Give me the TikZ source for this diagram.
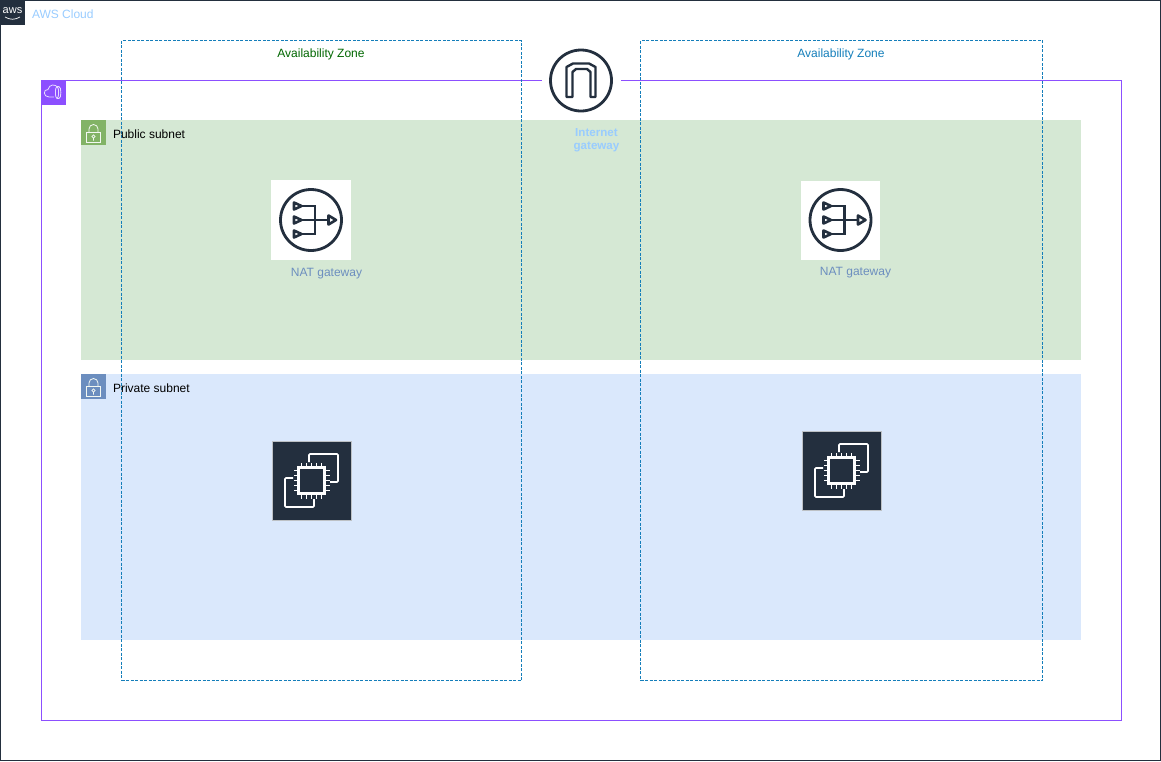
\documentclass[tikz,border=0pt]{standalone}
\usepackage{fontspec}
\setmainfont{Liberation Sans}
\usepackage{xcolor}
\definecolor{cloudcol}{RGB}{35,47,62}
\definecolor{vpccol}{RGB}{140,79,255}
\definecolor{azcol}{RGB}{20,126,186}
\definecolor{azgreen}{RGB}{0,102,0}
\definecolor{pubfill}{RGB}{213,232,212}
\definecolor{pubtag}{RGB}{130,179,102}
\definecolor{privfill}{RGB}{218,232,252}
\definecolor{privtag}{RGB}{108,142,191}
\definecolor{paleblue}{RGB}{153,204,255}

\begin{document}
\begin{tikzpicture}[x=1pt,y=-1pt]
	\tikzset{
		box/.style={shape=rectangle, inner sep=0pt, outer sep=0pt},
		cloud_box/.style={box, draw=cloudcol, line width=1pt, minimum width=1160pt, minimum height=760pt},
		vpc_box/.style={box, draw=vpccol, line width=1pt, minimum width=1080pt, minimum height=640pt},
		az_box/.style={box, draw=azcol, line width=1pt, dash pattern=on 3pt off 1.5pt, minimum height=640pt},
		subnet_box/.style={box, minimum width=1000pt},
		tag/.style={box, minimum size=25pt},
		tile/.style={box, minimum size=80pt},
		ec2_tile/.style={box, minimum size=78.5pt, fill=cloudcol, draw=white!70!cloudcol, line width=0.5pt},
		txt/.style={inner sep=0pt, outer sep=0pt, font=\fontsize{12}{13}\selectfont},
		nat_label/.style={txt, text=privtag},
		pics/lock/.style={code={
			\draw[white!70!pubfill, line width=0.8pt] (-7,0) rectangle (7,10);
			\draw[white!70!pubfill, line width=0.8pt] (-4.5,0) -- (-4.5,-3.5) arc[start angle=180, end angle=360, radius=4.5] -- (4.5,0);
			\draw[white!70!pubfill, line width=0.7pt] (0,4) circle (1.6) (0,5.6) -- (0,8);
		}},
		pics/natgw/.style={code={
			\draw[cloudcol, line width=2.8pt] (0,0) circle (30.5);
			\draw[cloudcol, line width=2.6pt, line join=round] (-17,-17.5) -- (-9.5,-14) -- (-17,-10.5) -- cycle;
			\draw[cloudcol, line width=2.6pt, line join=round] (-17,-3.5) -- (-9.5,0) -- (-17,3.5) -- cycle;
			\draw[cloudcol, line width=2.6pt, line join=round] (-17,10.5) -- (-9.5,14) -- (-17,17.5) -- cycle;
			\draw[cloudcol, line width=2.6pt, line join=round] (17.5,-4.5) -- (25,0) -- (17.5,4.5) -- cycle;
			\draw[cloudcol, line width=2.6pt] (-9,-14) -- (4,-14) -- (4,14) -- (-9,14);
			\draw[cloudcol, line width=2.6pt] (-9,0) -- (17,0);
		}},
		pics/ec2chip/.style={code={
			\draw[white, line width=1.6pt, rounded corners=1pt] (-2.5,-18.5) -- (-2.5,-26.5) -- (26.5,-26.5) -- (26.5,1.5) -- (18.5,1.5);
			\draw[white, line width=1.6pt, rounded corners=1pt] (-18.5,-2.5) -- (-26.5,-2.5) -- (-26.5,26.5) -- (2.5,26.5) -- (2.5,18.5);
			\draw[white, line width=2.2pt] (-13,-13) rectangle (13,13);
			\foreach \p in {-10,-5,0,5,10} {
				\draw[white, line width=1.6pt] (\p,-13) -- (\p,-18) (\p,13) -- (\p,18);
				\draw[white, line width=1.6pt] (-13,\p) -- (-18,\p) (13,\p) -- (18,\p);
			}
		}}
	}

	\useasboundingbox (0,0) rectangle (1161,761);

	% outer frames
	\node[cloud_box] (cloud) at (580.5,380.5) {};
	\node[vpc_box] (vpc) at (581.5,400.5) {};

	% subnets
	\node[subnet_box, fill=pubfill, minimum height=240pt] (public) at (581,240) {};
	\node[subnet_box, fill=privfill, minimum height=266pt] (private) at (581,507) {};

	% zones
	\node[az_box, minimum width=400pt] (azleft) at (321.5,360.5) {};
	\node[az_box, minimum width=402pt] (azright) at (841.5,360.5) {};

	% corner tags
	\node[tag, fill=cloudcol] (cloudtag) at (12.5,12.5) {};
	\node[text=white, inner sep=0pt, font=\fontsize{11}{11}\selectfont] (awstxt) at (12.5,10.5) {aws};
	\draw[white, line width=0.7pt] (5,17) .. controls (10,20) and (15,20) .. (20,17);
	\node[tag, fill=vpccol] (vpctag) at (53.5,92.5) {};
	\draw[white!80!vpccol, line width=0.8pt] (54,97) -- (49,97) .. controls (43,97) and (43,89) .. (48,89.5) .. controls (49,84) and (56,83.5) .. (58,88);
	\draw[white!80!vpccol, line width=0.8pt] (57,92.5) ellipse (1.6 and 6) (57,86.5) -- (59,86.5) (57,98.5) -- (59,98.5);
	\draw[white!80!vpccol, line width=0.8pt] (59,86.5) .. controls (61.5,86.5) and (61.5,98.5) .. (59,98.5);
	\node[tag, fill=pubtag] (pubtag) at (93.5,132.5) {};
	\pic at (pubtag) {lock};
	\node[tag, fill=privtag] (privtag) at (93.5,386.5) {};
	\pic at (privtag) {lock};

	% internet gateway
	\node[box, fill=white, minimum size=79pt] (igw) at (581,80.5) {};
	\draw[cloudcol, line width=2.8pt] (igw) circle (30.5);
	\draw[cloudcol, line width=2.4pt, line join=round] (566.5,97) -- (566.5,67) -- (573,63.5) -- (589,63.5) -- (595.5,67) -- (595.5,97) -- (590.5,97) -- (590.5,72) -- (587,69) -- (576,69) -- (572.5,72) -- (572.5,97) -- cycle;

	% nat gateways
	\node[tile, fill=white] (natleft) at (311,220) {};
	\pic at (natleft) {natgw};
	\node[tile, fill=white, minimum size=79pt] (natright) at (840.5,220) {};
	\pic at (natright) {natgw};

	% ec2 instances
	\node[ec2_tile] (ec2left) at (311.5,480.5) {};
	\pic at (ec2left) {ec2chip};
	\node[ec2_tile] (ec2right) at (841.5,470.5) {};
	\pic at (ec2right) {ec2chip};

	% labels
	\node[txt, text=paleblue, anchor=west] (cloudlbl) at (32,14) {AWS Cloud};
	\node[txt, anchor=west] (publbl) at (113,134) {Public subnet};
	\node[txt, anchor=west] (privlbl) at (113,388) {Private subnet};
	\node[txt, text=azgreen] (azleftlbl) at (321,54.5) {Availability Zone};
	\node[txt, text=azcol] (azrightlbl) at (841,54.5) {Availability Zone};
	\node[txt, text=paleblue, align=center, font=\fontsize{11.6}{13}\selectfont\bfseries] (igwlbl) at (596.5,140.5) {Internet\\gateway};
	\node[nat_label] (natleftlbl) at (326.5,273.5) {NAT gateway};
	\node[nat_label] (natrightlbl) at (855.5,272.5) {NAT gateway};
\end{tikzpicture}
\end{document}
